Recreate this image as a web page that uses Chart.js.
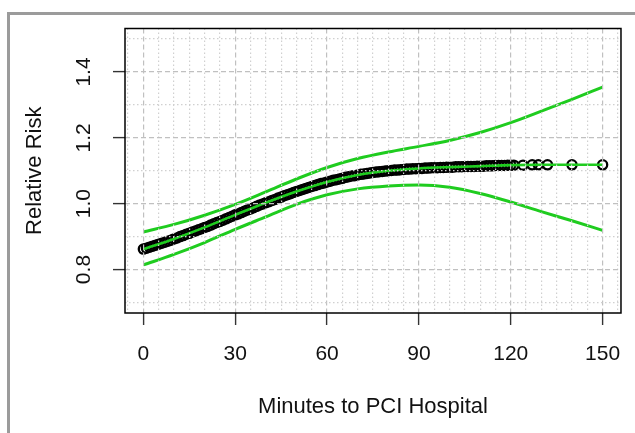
<!DOCTYPE html>
<html>
<head>
<meta charset="utf-8">
<script src="https://cdn.jsdelivr.net/npm/chart.js@4.4.1/dist/chart.umd.min.js"></script>
<style>
html, body { margin: 0; padding: 0; background: #fff; }
#wrap { position: relative; width: 635px; height: 433px; overflow: hidden; background: #fff; }
#frame { position: absolute; left: 7px; top: 12px; width: 700px; height: 500px; box-sizing: border-box;
  border-top: 3px solid #9b9b9b; border-left: 3px solid #9b9b9b; pointer-events: none; }
canvas { position: absolute; left: 0; top: 0; }
</style>
</head>
<body>
<div id="wrap"><canvas id="chart" width="635" height="433"></canvas><div id="frame"></div></div>
<script>
// patients: minutes to PCI hospital vs fitted relative risk
const patientMinutes = [0, 1, 2, 3, 4, 5, 6, 7, 8, 9, 10, 11, 12, 13, 14, 15, 16, 17, 18, 19,
  20, 21, 22, 23, 24, 25, 26, 27, 28, 29, 30, 31, 32, 33, 34, 35, 36, 37, 38, 39,
  40, 41, 42, 43, 44, 45, 46, 47, 48, 49, 50, 51, 52, 53, 54, 55, 56, 57, 58, 59,
  60, 61, 62, 63, 64, 65, 66, 67, 68, 69, 70, 71, 72, 73, 74, 75, 76, 77, 78, 79,
  80, 81, 82, 83, 84, 85, 86, 87, 88, 89, 90, 91, 92, 93, 94, 95, 96, 97, 98, 99,
  100, 101, 102, 103, 104, 105, 106, 107, 108, 109, 110, 111, 112, 113, 114, 115, 116, 117, 118, 119,
  120, 121, 124, 127, 129, 132, 140, 150];
const patientRisk = [0.862, 0.865, 0.868, 0.871, 0.874, 0.877, 0.880, 0.883, 0.886, 0.889,
  0.893, 0.896, 0.900, 0.903, 0.907, 0.910, 0.914, 0.917, 0.921, 0.924,
  0.928, 0.931, 0.935, 0.939, 0.943, 0.946, 0.950, 0.954, 0.958, 0.962,
  0.966, 0.969, 0.973, 0.977, 0.981, 0.984, 0.988, 0.992, 0.996, 0.999,
  1.003, 1.006, 1.010, 1.013, 1.017, 1.020, 1.024, 1.027, 1.030, 1.034,
  1.037, 1.040, 1.043, 1.046, 1.049, 1.052, 1.055, 1.058, 1.061, 1.063,
  1.066, 1.068, 1.071, 1.073, 1.075, 1.077, 1.080, 1.082, 1.084, 1.085,
  1.087, 1.089, 1.090, 1.092, 1.093, 1.095, 1.096, 1.097, 1.098, 1.099,
  1.100, 1.101, 1.102, 1.102, 1.103, 1.104, 1.105, 1.105, 1.106, 1.106,
  1.107, 1.107, 1.108, 1.108, 1.109, 1.109, 1.109, 1.110, 1.110, 1.111,
  1.111, 1.111, 1.112, 1.112, 1.112, 1.113, 1.113, 1.113, 1.113, 1.114,
  1.114, 1.114, 1.115, 1.115, 1.115, 1.116, 1.116, 1.116, 1.116, 1.117,
  1.117, 1.117, 1.117, 1.118, 1.118, 1.118, 1.118, 1.118];

// spline fit and confidence band
const fitMinutes = [0, 10, 20, 30, 40, 50, 60, 70, 80, 90, 100, 110, 120, 130, 140, 150];
const fitRisk = [0.862, 0.893, 0.928, 0.966, 1.003, 1.037, 1.066, 1.087, 1.100, 1.107, 1.111, 1.114, 1.117, 1.118, 1.118, 1.118];
const upperRisk = [0.914, 0.937, 0.965, 0.998, 1.036, 1.075, 1.110, 1.137, 1.157, 1.174, 1.192, 1.216, 1.246, 1.281, 1.317, 1.354];
const lowerRisk = [0.814, 0.846, 0.882, 0.922, 0.960, 0.998, 1.027, 1.045, 1.054, 1.057, 1.050, 1.031, 1.005, 0.976, 0.948, 0.919];

const xTicks = [0, 30, 60, 90, 120, 150];
const xTickLabels = ['0', '30', '60', '90', '120', '150'];
const yTicks = [0.8, 1.0, 1.2, 1.4];
const yTickLabels = ['0.8', '1.0', '1.2', '1.4'];

const FONT = "'Liberation Sans', Arial, Helvetica, sans-serif";
const GREEN = '#1fcc1f';

function pts(xs, ys) { return xs.map((x, i) => ({x, y: ys[i]})); }
function isMajorX(v) { return xTicks.includes(v); }
function isMajorY(v) { return yTicks.some(t => Math.abs(t - v) < 1e-6); }

// grid every 5 minutes and every 0.1 of risk
const xGridAt = [];
for (let v = -5; v <= 155; v += 5) xGridAt.push(v);
const yGridAt = [];
for (let k = 7; k <= 15; k++) yGridAt.push(k / 10);

const boxPlugin = {
  id: 'box',
  afterDraw(chart) {
    const {ctx, chartArea: a} = chart;
    ctx.save();
    ctx.strokeStyle = '#000';
    ctx.lineWidth = 1.5;
    ctx.strokeRect(a.left, a.top, a.right - a.left, a.bottom - a.top);
    ctx.restore();
  }
};

function gridOpts(isMajor) {
  return {
    z: 1,
    color: c => c.tick && isMajor(c.tick.value) ? '#c0c0c0' : '#d0d0d0',
    lineWidth: 1.2,
    drawTicks: true,
    tickLength: 12,
    tickWidth: 1.4,
    tickColor: c => c.tick && isMajor(c.tick.value) ? '#333' : 'rgba(0,0,0,0)'
  };
}
function borderOpts(isMajor) {
  return {
    display: false,
    dash: c => !c.tick ? [] : (isMajor(c.tick.value) ? [5, 3] : [1.5, 2.5])
  };
}

new Chart(document.getElementById('chart').getContext('2d'), {
  type: 'scatter',
  data: {
    datasets: [{
      label: 'Patients',
      data: pts(patientMinutes, patientRisk),
      showLine: false,
      pointRadius: 4.6,
      pointBorderWidth: 2.3,
      pointBorderColor: '#000',
      pointBackgroundColor: 'rgba(0,0,0,0)',
      order: 3
    }, {
      label: 'Fit',
      data: pts(fitMinutes, fitRisk),
      showLine: true,
      borderColor: GREEN,
      borderWidth: 2.6,
      pointRadius: 0,
      cubicInterpolationMode: 'monotone',
      order: 2
    }, {
      label: 'Upper',
      data: pts(fitMinutes, upperRisk),
      showLine: true,
      borderColor: GREEN,
      borderWidth: 3,
      pointRadius: 0,
      cubicInterpolationMode: 'monotone',
      order: 1
    }, {
      label: 'Lower',
      data: pts(fitMinutes, lowerRisk),
      showLine: true,
      borderColor: GREEN,
      borderWidth: 3,
      pointRadius: 0,
      cubicInterpolationMode: 'monotone',
      order: 1
    }]
  },
  options: {
    responsive: false,
    animation: false,
    devicePixelRatio: 1,
    layout: { padding: { top: 28.5, right: 13, left: 0, bottom: 0 } },
    plugins: { legend: { display: false }, tooltip: { enabled: false } },
    scales: {
      x: {
        type: 'linear',
        min: -6,
        max: 156,
        afterBuildTicks: s => { s.ticks = xGridAt.map(v => ({value: v})); },
        afterFit: s => { s.height = 120; },
        ticks: {
          autoSkip: false,
          maxRotation: 0,
          minRotation: 0,
          padding: 17,
          color: '#111',
          font: { family: FONT, size: 21 },
          callback: v => { const i = xTicks.indexOf(v); return i >= 0 ? xTickLabels[i] : ''; }
        },
        grid: gridOpts(isMajorX),
        border: borderOpts(isMajorX),
        title: {
          display: true,
          text: 'Minutes to PCI Hospital',
          color: '#111',
          font: { family: FONT, size: 22 },
          padding: { top: 0, bottom: 13.2 }
        }
      },
      y: {
        type: 'linear',
        min: 0.668,
        max: 1.532,
        afterBuildTicks: s => { s.ticks = yGridAt.map(v => ({value: v})); },
        afterFit: s => { s.width = 125; },
        ticks: {
          autoSkip: false,
          minRotation: 90,
          maxRotation: 90,
          crossAlign: 'center',
          padding: 14,
          color: '#111',
          font: { family: FONT, size: 21 },
          callback: v => { const i = yTicks.findIndex(t => Math.abs(t - v) < 1e-6); return i >= 0 ? yTickLabels[i] : ''; }
        },
        grid: gridOpts(isMajorY),
        border: borderOpts(isMajorY),
        title: {
          display: true,
          text: 'Relative Risk',
          color: '#111',
          font: { family: FONT, size: 22 },
          padding: { top: 21.5, bottom: 0 }
        }
      }
    }
  },
  plugins: [boxPlugin]
});
</script>
</body>
</html>
